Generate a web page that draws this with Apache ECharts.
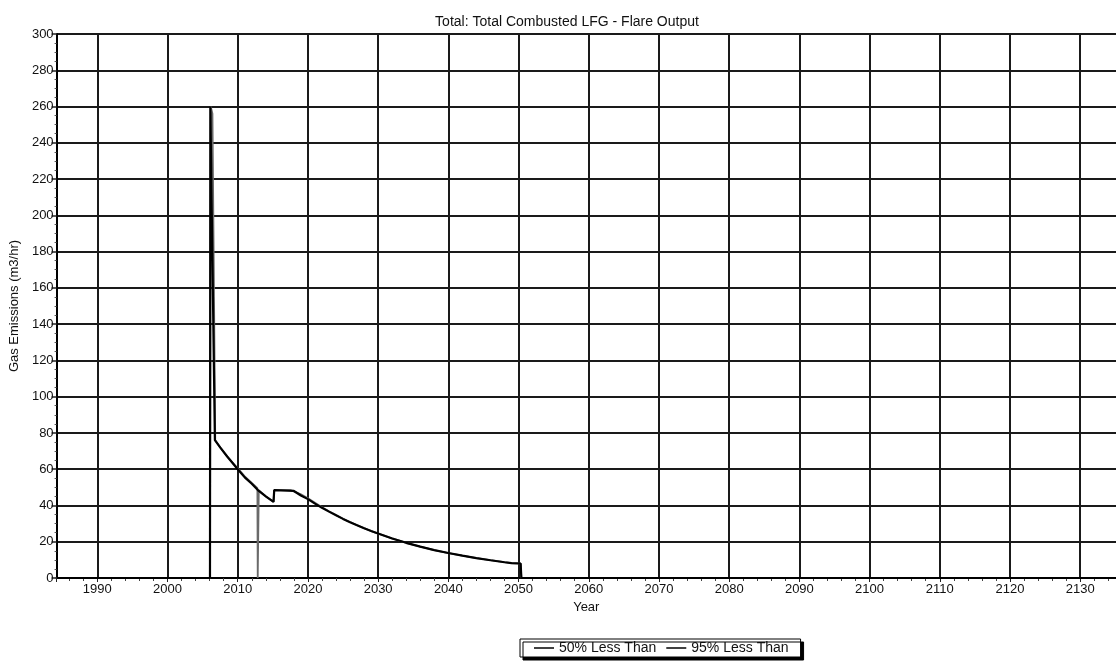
<!DOCTYPE html>
<html>
<head>
<meta charset="utf-8">
<script src="https://cdn.jsdelivr.net/npm/echarts@6/dist/echarts.min.js"></script>
<style>
html,body{margin:0;padding:0;background:#fff;}
#c{width:1116px;height:662px;}
</style>
</head>
<body>
<div id="c"></div>
<script>
// Estimated values: [year, m3/hr]
const seriesNames = ['50% Less Than', '95% Less Than'];
const years50 = [1984.2, 2006.05, 2006.15, 2006.4, 2006.8, 2007.5, 2008.5, 2010, 2011, 2012, 2012.8, 2012.85, 2012.95, 2013.0, 2014, 2015.1, 2015.2, 2017.5, 2018, 2019, 2020, 2021, 2022, 2023, 2024, 2025, 2026, 2027, 2028, 2029, 2030, 2032, 2034, 2036, 2038, 2040, 2042, 2044, 2046, 2048, 2049, 2050.3, 2050.4, 2135.1];
const values50 = [0, 0, 260, 256, 76, 72, 67, 60.5, 56, 52.5, 49.5, 0, 0, 48.5, 45, 42, 48.5, 48.5, 47.8, 46.2, 44, 41.5, 39, 36.8, 34.7, 32.7, 30.9, 29.1, 27.5, 25.9, 24.5, 21.8, 19.4, 17.3, 15.4, 13.7, 12.3, 11, 9.8, 8.7, 8.2, 8.0, 0, 0];
const years95 = [1984.2, 2006.05, 2006.1, 2006.35, 2006.75, 2007.5, 2008.5, 2010, 2011, 2012, 2013, 2014, 2015.1, 2015.2, 2018, 2019, 2020, 2021, 2022, 2023, 2024, 2025, 2026, 2027, 2028, 2029, 2030, 2032, 2034, 2036, 2038, 2040, 2042, 2044, 2046, 2048, 2049, 2050.3, 2050.4, 2135.1];
const values95 = [0, 0, 260, 260, 76, 72, 67, 60, 55.5, 52, 48, 45, 42, 48.5, 48, 45.5, 43.5, 41, 38.7, 36.6, 34.6, 32.6, 30.8, 29.1, 27.4, 25.9, 24.5, 21.8, 19.4, 17.3, 15.4, 13.8, 12.3, 11, 9.8, 8.7, 8.2, 8.0, 0, 0];
const yTicks = [0, 20, 40, 60, 80, 100, 120, 140, 160, 180, 200, 220, 240, 260, 280, 300];

const zip = (xs, ys) => xs.map((x, i) => [x, ys[i]]);

const chart = echarts.init(document.getElementById('c'), null, {renderer: 'canvas'});
const font = 'Liberation Sans, Arial, sans-serif';
chart.setOption({
  animation: false,
  backgroundColor: '#ffffff',
  textStyle: {fontFamily: font, color: '#111'},
  title: {
    text: 'Total: Total Combusted LFG - Flare Output',
    left: 562, top: 10, textAlign: 'center',
    textStyle: {fontSize: 14, fontWeight: 'normal', color: '#111', fontFamily: font}
  },
  legend: {
    data: [
      {name: seriesNames[0], itemStyle: {color: '#000'}},
      {name: seriesNames[1], itemStyle: {color: '#000'}}
    ],
    left: 520, top: 639,
    orient: 'horizontal',
    icon: 'rect', itemWidth: 20, itemHeight: 1.5, itemGap: 10,
    padding: [2, 12, 2, 14],
    borderColor: '#000', borderWidth: 1,
    backgroundColor: '#fff',
    shadowColor: '#000', shadowBlur: 0, shadowOffsetX: 3, shadowOffsetY: 3,
    textStyle: {fontSize: 14, color: '#111', fontFamily: font}
  },
  grid: {left: 55, right: 0, top: 34, bottom: 84, containLabel: false},
  xAxis: {
    type: 'value',
    min: 1984.2, max: 2135.1,
    splitNumber: 15,
    name: 'Year', nameLocation: 'middle', nameGap: 20,
    nameTextStyle: {fontSize: 13, color: '#111', fontFamily: font},
    axisLine: {show: true, onZero: false, lineStyle: {color: '#000', width: 2}},
    axisTick: {show: true, length: 4, lineStyle: {color: '#222', width: 1}},
    minorTick: {show: true, splitNumber: 5, length: 3, lineStyle: {color: '#444', width: 1}},
    axisLabel: {
      showMinLabel: false, showMaxLabel: false, margin: 5,
      fontSize: 13, color: '#111', fontFamily: font,
      formatter: v => (Math.abs(v % 10) < 1e-6 ? String(Math.round(v)) : '')
    },
    splitLine: {show: true, showMinLine: false, showMaxLine: false, lineStyle: {color: '#1a1a1a', width: 2}}
  },
  yAxis: {
    type: 'value',
    min: yTicks[0], max: yTicks[yTicks.length - 1], interval: yTicks[1] - yTicks[0],
    name: 'Gas Emissions (m3/hr)', nameLocation: 'middle', nameGap: 33,
    nameTextStyle: {fontSize: 13, color: '#111', fontFamily: font},
    axisLine: {show: true, lineStyle: {color: '#000', width: 2}},
    axisTick: {show: true, length: 5, lineStyle: {color: '#222', width: 1.5}},
    minorTick: {show: true, splitNumber: 4, length: 2, lineStyle: {color: '#555', width: 1}},
    axisLabel: {margin: 3, fontSize: 13, color: '#111', fontFamily: font},
    splitLine: {show: true, lineStyle: {color: '#1a1a1a', width: 2}}
  },
  series: [
    {
      name: seriesNames[0], type: 'line', data: zip(years50, values50),
      symbol: 'none', color: '#555',
      lineStyle: {color: '#6a6a6a', width: 1.8}, z: 3
    },
    {
      name: seriesNames[1], type: 'line', data: zip(years95, values95),
      symbol: 'none', color: '#000',
      lineStyle: {color: '#000', width: 2.2}, z: 4
    }
  ]
});
</script>
</body>
</html>
